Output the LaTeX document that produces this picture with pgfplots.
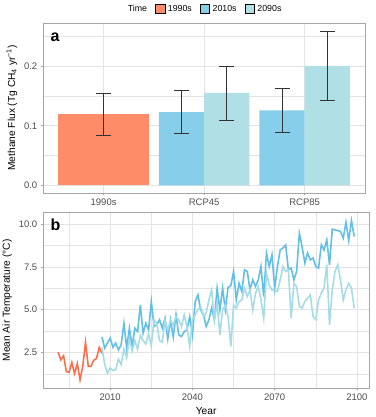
\documentclass[border=0pt]{standalone}
\usepackage{fontspec}
\setmainfont{Liberation Sans}
\usepackage{pgfplots}
\usepackage{pgfplotstable}
\pgfplotsset{compat=1.18}

\definecolor{barA}{HTML}{FF8C69}
\definecolor{barB}{HTML}{87CEEB}
\definecolor{barC}{HTML}{B0E0E6}
\definecolor{lineA}{HTML}{FF6E4A}
\definecolor{lineB}{HTML}{62BFE8}
\definecolor{lineC}{HTML}{A6DCE5}
\definecolor{framec}{HTML}{A6A6A6}
\definecolor{gridc}{HTML}{E3E3E3}
\definecolor{tickc}{HTML}{4D4D4D}
\definecolor{errc}{HTML}{333333}

% 1990s baseline
\pgfplotstableread{
year T
1991 2.52
1992 2.07
1993 2.31
1994 1.39
1995 1.35
1996 1.92
1997 1.28
1998 1.85
1999 0.91
2000 1.70
2001 3.10
2002 1.70
2003 1.70
2004 2.05
2005 2.15
2006 2.80
2007 2.45
}\histT

% RCP85 (2010s colour)
\pgfplotstableread{
year T
2007 3.40
2008 2.76
2009 3.05
2010 3.34
2011 2.81
2012 3.05
2013 2.66
2014 2.95
2015 4.21
2016 2.76
2017 3.92
2018 2.86
2019 3.92
2020 3.72
2021 5.28
2022 3.63
2023 4.21
2024 3.82
2025 5.47
2026 4.02
2027 4.11
2028 4.41
2029 3.92
2030 4.50
2031 3.30
2032 4.40
2033 3.40
2034 4.70
2035 3.53
2036 3.43
2037 3.72
2038 3.82
2039 4.60
2040 3.53
2041 5.47
2042 5.86
2043 4.99
2044 4.70
2045 4.02
2046 4.41
2047 5.09
2048 4.41
2049 6.25
2050 4.99
2051 6.25
2052 4.99
2053 6.30
2054 6.40
2055 7.23
2056 5.57
2057 6.54
2058 6.06
2059 7.33
2060 7.23
2061 6.15
2062 6.74
2063 6.35
2064 6.74
2065 7.52
2066 5.77
2067 8.30
2068 7.52
2069 8.20
2070 6.25
2071 7.52
2072 8.49
2073 8.59
2074 8.78
2075 7.33
2076 7.43
2077 6.74
2078 7.23
2079 9.46
2080 8.68
2081 7.72
2082 8.30
2083 7.91
2084 8.01
2085 7.52
2086 7.43
2087 8.78
2088 8.49
2089 9.07
2090 7.62
2091 9.70
2092 9.66
2093 9.62
2094 9.56
2095 9.17
2096 10.10
2097 9.04
2098 10.20
2099 9.27
}\rcpB

% RCP45 (2090s colour)
\pgfplotstableread{
year T
2007 2.80
2008 1.80
2009 1.30
2010 1.60
2011 1.45
2012 1.50
2013 2.10
2014 1.80
2015 2.70
2016 2.20
2017 3.30
2018 2.60
2019 3.20
2020 2.70
2021 3.50
2022 3.20
2023 3.00
2024 3.60
2025 2.90
2026 4.40
2027 4.20
2028 3.20
2029 3.10
2030 4.40
2031 3.80
2032 4.40
2033 4.10
2034 4.60
2035 4.41
2036 4.02
2037 4.70
2038 4.02
2039 2.85
2040 4.41
2041 4.70
2042 4.99
2043 5.18
2044 4.60
2045 4.80
2046 5.57
2047 6.15
2048 4.41
2049 5.38
2050 3.53
2051 4.99
2052 5.28
2053 4.60
2054 2.85
2055 5.28
2056 5.09
2057 5.47
2058 5.57
2059 6.25
2060 5.77
2061 6.15
2062 4.99
2063 5.96
2064 6.35
2065 5.57
2066 4.51
2067 7.13
2068 6.44
2069 6.15
2070 6.15
2071 6.06
2072 6.74
2073 7.52
2074 7.23
2075 7.33
2076 4.51
2077 6.54
2078 6.35
2079 5.18
2080 5.09
2081 5.47
2082 5.67
2083 5.86
2084 4.60
2085 4.41
2086 5.57
2087 5.96
2088 6.25
2089 7.62
2090 4.12
2091 6.15
2092 7.23
2093 7.62
2094 6.74
2095 5.57
2096 6.15
2097 6.54
2098 6.25
2099 5.09
}\rcpC

\pgfplotsset{
  panel/.style={
    scale only axis,
    axis line style={draw=framec, line width=0.9pt},
    tick style={draw=framec, line width=0.5pt},
    tick align=outside,
    major tick length=2.5pt,
    minor tick length=0pt,
    xtick pos=left, ytick pos=left,
    grid=both,
    major grid style={draw=gridc, line width=0.5pt},
    minor grid style={draw=gridc, line width=0.3pt},
    tick label style={font=\fontsize{9.5}{10}\selectfont, text=tickc},
    label style={font=\fontsize{10.2}{11}\selectfont},
    /pgf/number format/assume math mode=true,
    /pgf/number format/set thousands separator={},
  },
}

\begin{document}
\begin{tikzpicture}
\useasboundingbox (0pt,0pt) rectangle (375pt,417pt);

\begin{axis}[panel,
  at={(43.3pt,224pt)}, anchor=south west,
  width=321.7pt, height=170pt,
  xmin=0.4, xmax=3.6, ymin=-0.013, ymax=0.2726,
  xtick={1,2,3}, xticklabels={1990s,RCP45,RCP85},
  ytick={0,0.1,0.2}, yticklabels={0.0,0.1,0.2},
  minor ytick={0.05,0.15,0.25},
  ylabel={Methane Flux (Tg CH\textsubscript{4} yr\textsuperscript{−1})},
  legend columns=-1,
  legend style={at={(0.5,1)}, anchor=south, yshift=6pt, draw=none, fill=none,
    font=\fontsize{8.8}{9}\selectfont,
    /tikz/every odd column/.append style={column sep=1pt},
    /tikz/every even column/.append style={column sep=6pt}},
  legend image code/.code={\fill[#1] (0pt,-4.7pt) rectangle (9.4pt,4.7pt);},
  error bars/error bar style={draw=errc, line width=0.6pt},
  error bars/error mark=|,
  error bars/error mark options={draw=errc, line width=0.6pt, mark size=7.5pt},
]
\addplot[ybar, bar width=0.9, bar shift=0pt, fill=barA, draw=none, forget plot,
  error bars/.cd, y dir=both, y explicit]
  coordinates {(1,0.119) +- (0,0.035)};
\addplot[ybar, bar width=0.45, bar shift=0pt, fill=barB, draw=none, forget plot,
  error bars/.cd, y dir=both, y explicit]
  coordinates {(1.775,0.123) +- (0,0.036) (2.775,0.126) +- (0,0.0366)};
\addplot[ybar, bar width=0.45, bar shift=0pt, fill=barC, draw=none, forget plot,
  error bars/.cd, y dir=both, y explicit]
  coordinates {(2.225,0.155) +- (0,0.0455) (3.225,0.2005) +- (0,0.0586)};
\addlegendimage{empty legend}
\addlegendentry{Time}
\addlegendimage{fill=barA}
\addlegendentry{1990s}
\addlegendimage{fill=barB}
\addlegendentry{2010s}
\addlegendimage{fill=barC}
\addlegendentry{2090s}
\end{axis}

\begin{axis}[panel,
  at={(43.3pt,29pt)}, anchor=south west,
  width=325.7pt, height=175.3pt,
  xmin=1985.6, xmax=2104.4, ymin=0.43, ymax=10.66,
  xtick={2010,2040,2070,2100}, minor xtick={1995,2025,2055,2085},
  ytick={2.5,5,7.5,10}, yticklabels={2.5,5.0,7.5,10.0},
  minor ytick={1.25,3.75,6.25,8.75},
  xlabel={Year}, ylabel={Mean Air Temperature (°C)},
]
\addplot[lineA, line width=1.6pt] table[x=year, y=T] {\histT};
\addplot[lineB, line width=1.6pt] table[x=year, y=T] {\rcpB};
\addplot[lineC, line width=1.6pt] table[x=year, y=T] {\rcpC};
\end{axis}

\node[anchor=base west, inner sep=0pt, font=\bfseries\fontsize{16}{16}\selectfont] at (50.5pt,375pt) {a};
\node[anchor=base west, inner sep=0pt, font=\bfseries\fontsize{16}{16}\selectfont] at (50.5pt,186pt) {b};
\end{tikzpicture}
\end{document}
